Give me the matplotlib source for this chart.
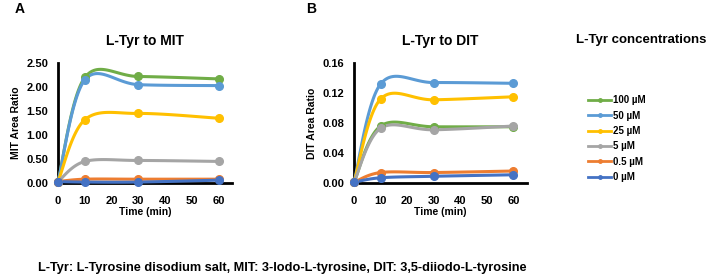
import numpy as np
import matplotlib
matplotlib.use("Agg")
import matplotlib.pyplot as plt
from matplotlib.lines import Line2D

plt.rcParams['font.family'] = ['Liberation Sans', 'DejaVu Sans']

time = [0, 10, 30, 60]
labels = ['100 µM', '50 µM', '25 µM', '5 µM', '0.5 µM', '0 µM']
colors = ['#70AD47', '#5B9BD5', '#FFC000', '#A5A5A5', '#ED7D31', '#4472C4']

mit_100 = [0.03, 2.20, 2.22, 2.17]
mit_50 = [0.03, 2.15, 2.05, 2.03]
mit_25 = [0.03, 1.32, 1.45, 1.35]
mit_5 = [0.03, 0.45, 0.47, 0.45]
mit_05 = [0.03, 0.08, 0.08, 0.08]
mit_0 = [0.03, 0.02, 0.02, 0.06]

dit_100 = [0.001, 0.076, 0.075, 0.075]
dit_50 = [0.001, 0.132, 0.134, 0.133]
dit_25 = [0.001, 0.112, 0.111, 0.115]
dit_5 = [0.001, 0.073, 0.071, 0.076]
dit_05 = [0.001, 0.014, 0.014, 0.016]
dit_0 = [0.001, 0.007, 0.009, 0.011]

mit_series = [mit_100, mit_50, mit_25, mit_5, mit_05, mit_0]
dit_series = [dit_100, dit_50, dit_25, dit_5, dit_05, dit_0]


def smooth(x, y, n=30):
    x = np.asarray(x, float); y = np.asarray(y, float)
    P = np.column_stack([x, y])
    out = [P[0]]
    for i in range(len(P) - 1):
        p0 = P[i - 1] if i > 0 else P[i]
        p1 = P[i]; p2 = P[i + 1]
        p3 = P[i + 2] if i + 2 < len(P) else P[i + 1]
        c1 = p1 + (p2 - p0) / 6.0
        c2 = p2 - (p3 - p1) / 6.0
        t = np.linspace(0, 1, n)[1:, None]
        B = ((1 - t) ** 3) * p1 + 3 * ((1 - t) ** 2) * t * c1 + 3 * (1 - t) * t ** 2 * c2 + t ** 3 * p2
        out.extend(B)
    out = np.array(out)
    return out[:, 0], out[:, 1]


fig = plt.figure(figsize=(7.08, 2.79), dpi=100)
axA = fig.add_axes([0.082, 0.344, 0.246, 0.430])
axB = fig.add_axes([0.500, 0.344, 0.244, 0.430])


def style(ax, ymax, yticks, fmt, ylabel, title):
    ax.set_xlim(0, 65)
    ax.set_ylim(0, ymax)
    ax.set_xticks([0, 10, 20, 30, 40, 50, 60])
    ax.set_yticks(yticks)
    ax.set_yticklabels([fmt.format(v) for v in yticks])
    for s in ['top', 'right']:
        ax.spines[s].set_visible(False)
    for s in ['left', 'bottom']:
        ax.spines[s].set_linewidth(2)
        ax.spines[s].set_color('black')
    ax.tick_params(length=0, labelsize=8)
    ax.tick_params(axis='y', pad=7)
    ax.tick_params(axis='x', pad=9)
    for lab in ax.get_xticklabels() + ax.get_yticklabels():
        lab.set_fontweight('bold')
    ax.set_xlabel('Time (min)', fontsize=7.5, fontweight='bold', labelpad=1)
    ax.set_ylabel(ylabel, fontsize=7.5, fontweight='bold', labelpad=4)
    ax.set_title(title, fontsize=10, fontweight='bold', pad=13)


for ax, series in [(axA, mit_series), (axB, dit_series)]:
    for vals, c in zip(series, colors):
        xs, ys = smooth(time, vals)
        ax.plot(xs, ys, color=c, lw=2.2, zorder=3, clip_on=False)
        ax.plot(time, vals, 'o', color=c, ms=5.5, zorder=4, clip_on=False)

style(axA, 2.5, [0, 0.5, 1.0, 1.5, 2.0, 2.5], '{:.2f}', 'MIT Area Ratio', 'L-Tyr to MIT')
style(axB, 0.16, [0, 0.04, 0.08, 0.12, 0.16], '{:.2f}', 'DIT Area Ratio', 'L-Tyr to DIT')

fig.text(0.020, 0.955, 'A', fontsize=10, fontweight='bold')
fig.text(0.432, 0.955, 'B', fontsize=10, fontweight='bold')
fig.text(0.905, 0.845, 'L-Tyr concentrations', fontsize=9.5, fontweight='bold', ha='center')

handles = [Line2D([0], [0], color=c, lw=2, marker='o', ms=2.5) for c in colors]
leg = fig.legend(handles, labels, loc='upper left', bbox_to_anchor=(0.818, 0.69), frameon=False,
                 handlelength=2.4, handletextpad=0.2, labelspacing=0.55,
                 prop={'weight': 'bold', 'size': 7})

fig.text(0.054, 0.03, 'L-Tyr: L-Tyrosine disodium salt, MIT: 3-Iodo-L-tyrosine, DIT: 3,5-diiodo-L-tyrosine',
         fontsize=9.2, fontweight='bold')

fig.savefig('out.png', dpi=100)
